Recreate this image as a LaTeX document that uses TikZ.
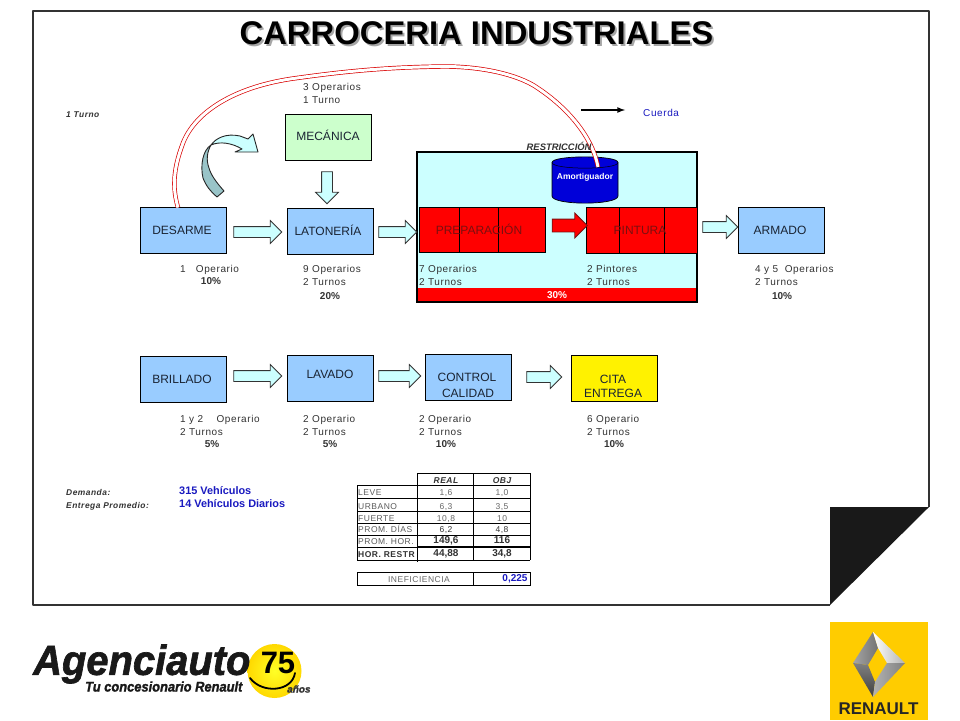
\documentclass[tikz,border=0pt]{standalone}
\usepackage{fontspec}
\setmainfont{Liberation Sans}
\newfontfamily\ltr[LetterSpace=6]{Liberation Sans}
\newfontfamily\logofont{Liberation Sans}[BoldItalicFeatures={FakeBold=1.6}]
\usetikzlibrary{shapes.arrows}
\definecolor{boxblue}{HTML}{99CCFF}
\definecolor{boxgreen}{HTML}{CCFFCC}
\definecolor{pale}{HTML}{CCFFFF}
\definecolor{ink}{HTML}{1A2433}
\definecolor{gris}{HTML}{333333}
\definecolor{darkred}{HTML}{7A1010}
\definecolor{teal2}{HTML}{99C4C8}
\definecolor{rnyellow}{HTML}{FFCC00}
\definecolor{azul}{HTML}{1A1AC0}
\tikzset{
  x=1pt,y=-1pt,
  fixh/.style={text height=7pt,text depth=0pt},
  procbox/.style={draw=black,line width=.7pt,fill=boxblue,inner sep=0,minimum width=86pt,minimum height=46pt},
  boxtext/.style={inner sep=0,fixh,font=\fontsize{12}{12}\selectfont,text=ink},
  redtext/.style={inner sep=0,fixh,font=\fontsize{12}{12}\selectfont,text=darkred},
  lbl/.style={anchor=west,inner sep=0,fixh,font=\ltr\fontsize{10}{10}\selectfont,text=gris},
  pct/.style={inner sep=0,fixh,font=\bfseries\fontsize{10}{10}\selectfont,text=gris},
  note/.style={anchor=west,inner sep=0,fixh,font=\ltr\itshape\bfseries\fontsize{8.4}{8.4}\selectfont,text=gris},
  bluenote/.style={anchor=west,inner sep=0,fixh,font=\bfseries\fontsize{10.9}{10.9}\selectfont,text=azul},
  blockarrow/.style={single arrow,draw=gris,line width=.8pt,fill=pale,inner sep=5pt,single arrow head extend=6pt,minimum height=#1},
  redblock/.style={draw=black,line width=.7pt,fill=red},
  cell/.style={inner sep=0,fixh,font=\ltr\fontsize{8.5}{8.5}\selectfont,text=gris!75},
  cellhead/.style={inner sep=0,fixh,font=\ltr\itshape\bfseries\fontsize{8.5}{8.5}\selectfont,text=gris},
  celldark/.style={inner sep=0,fixh,font=\bfseries\fontsize{10}{10}\selectfont,text=gris},
  rowname/.style={anchor=west,inner sep=0,fixh,font=\ltr\fontsize{8.5}{8.5}\selectfont,text=gris!80},
  tline/.style={draw=black,line width=.7pt},
  tthick/.style={draw=black,line width=1.2pt},
  logoit/.style={inner sep=0,font=\logofont\itshape\bfseries,text=black!90},
}
\begin{document}
\begin{tikzpicture}
\useasboundingbox (0,0) rectangle (960,720);
\fill[white] (0,0) rectangle (960,720);

% folded sheet
\draw[gris,line width=2.4pt,line join=round] (830,605) -- (33,605) -- (33,11) -- (929,11) -- (929,507);
\fill[black!90] (830,507) -- (929,507) -- (830,605) -- cycle;

% title
\node[inner sep=0,font=\bfseries\fontsize{32.8}{32.8}\selectfont,text=black!35] at (478.5,35.5) {CARROCERIA INDUSTRIALES};
\node[inner sep=0,font=\bfseries\fontsize{32.8}{32.8}\selectfont,text=black] (title) at (476.5,33.5) {CARROCERIA INDUSTRIALES};

% restriction block
\draw[black,line width=2pt,fill=pale] (417,152) rectangle (697,302);
\fill[red] (418,288) rectangle (696,301);
\node[pct,text=white] (p30) at (557,295) {30\%};
\node[redblock,inner sep=0,minimum width=126pt,minimum height=45pt] (prep) at (482,229.5) {};
\draw[black,line width=.7pt] (459,207) -- (459,252) (498,207) -- (498,252);
\node[redblock,inner sep=0,minimum width=111pt,minimum height=46pt] (pint) at (641.5,230) {};
\draw[black,line width=.7pt] (619.5,207) -- (619.5,253) (664,207) -- (664,253);
\node[redtext] at (479,231) {PREPARACIÓN};
\node[redtext] at (640,231) {PINTURA};
\node[single arrow,draw=darkred,line width=.8pt,fill=red,inner sep=6pt,single arrow head extend=6pt,minimum height=35pt] (redarr) at (566.5,225.5) {};
\filldraw[fill=blue!85!black,draw=black,line width=.7pt] (552,162.5) -- (552,196) .. controls (552,205.5) and (618,205.5) .. (618,196) -- (618,162.5) .. controls (618,155) and (552,155) .. (552,162.5) -- cycle;
\draw[black,line width=.5pt] (552,162.5) .. controls (552,170) and (618,170) .. (618,162.5);
\node[inner sep=0,text=white,font=\bfseries\fontsize{8.5}{8.5}\selectfont] (amort) at (585,177.5) {Amortiguador};

% process boxes
\node[procbox] (desarme) at (183.5,230) {};
\node[procbox] (latoneria) at (330,231) {};
\node[procbox,fill=boxgreen] (mecanica) at (328.5,137) {};
\node[procbox] (armado) at (781.5,230) {};
\node[procbox] (brillado) at (183,379) {};
\node[procbox] (lavado) at (330,378) {};
\node[procbox] (control) at (468.5,377) {};
\node[procbox,fill=yellow] (cita) at (614,378) {};
\node[boxtext] at (182,231) {DESARME};
\node[boxtext] at (328,232) {LATONERÍA};
\node[boxtext] at (328,137) {MECÁNICA};
\node[boxtext] at (780,231) {ARMADO};
\node[boxtext] at (182,380) {BRILLADO};
\node[boxtext] at (330,375) {LAVADO};
\node[boxtext] at (467,378) {CONTROL};
\node[boxtext] at (468,394) {CALIDAD};
\node[boxtext] at (613,380) {CITA};
\node[boxtext] at (613,394) {ENTREGA};

% block arrows
\node[blockarrow=48pt] (a1) at (255,232) {};
\node[blockarrow=38pt] (a2) at (395,232) {};
\node[blockarrow=35pt] (a3) at (717.5,227) {};
\node[blockarrow=48pt] (a4) at (255,376) {};
\node[blockarrow=42pt] (a5) at (397,376) {};
\node[blockarrow=35pt] (a6) at (541.5,377) {};
\node[blockarrow=32pt,shape border rotate=270] (a7) at (327,185) {};

% curved block arrow
\fill[teal2,draw=black!85,line width=.9pt,line join=round] (211,145) .. controls (203,150) and (200,165) .. (203,178) .. controls (206,186) and (211,192) .. (217,197) -- (224,191) .. controls (216,182) and (211,175) .. (209,168) .. controls (206,160) and (207,152) .. (211,145) -- cycle;
\fill[pale,draw=black!85,line width=.9pt,line join=round] (211,145) .. controls (216,138) and (226,133) .. (240,136) -- (248,139) -- (253,134) -- (258,152) -- (235,152) -- (242,149) .. controls (232,143) and (220,141) .. (211,145) -- cycle;

% red double route
\coordinate (routeA) at (178,207.5);
\coordinate (routeB) at (598,167);
\draw[red!85!black,line width=.7pt,double=white,double distance=3pt]
  (routeA) .. controls (173,190) and (172,172) .. (183,143)
  .. controls (195,112) and (235,86) .. (297,78)
  .. controls (340,72) and (385,67) .. (445,66.5)
  .. controls (475,66.5) and (510,72) .. (533,85)
  .. controls (565,105) and (592,135) .. (routeB);
\node[note,font=\itshape\bfseries\fontsize{9.4}{9.4}\selectfont] (restr) at (526.5,147) {RESTRICCIÓN};

% cuerda
\coordinate (cuerdaA) at (581,110);
\coordinate (cuerdaB) at (625,110);
\draw[black,line width=1.6pt,-latex] (cuerdaA) -- (cuerdaB);
\node[lbl,text=azul] (cuerda) at (643,113) {Cuerda};
\node[note] (turno) at (66,114) {1 Turno};

% labels
\node[lbl] at (303,87) {3 Operarios};
\node[lbl] at (303,100) {1 Turno};
\node[lbl] at (180,269) {1\ \ \ Operario};
\node[pct] at (211,281) {10\%};
\node[lbl] at (303,269) {9 Operarios};
\node[lbl] at (303,282) {2 Turnos};
\node[pct] at (330,296) {20\%};
\node[lbl] at (419,269) {7 Operarios};
\node[lbl] at (419,282) {2 Turnos};
\node[lbl] at (587,269) {2 Pintores};
\node[lbl] at (587,282) {2 Turnos};
\node[lbl] at (755,269) {4 y 5\ \ Operarios};
\node[lbl] at (755,282) {2 Turnos};
\node[pct] at (782,296) {10\%};
\node[lbl] at (180,419) {1 y 2\ \ \ \ Operario};
\node[lbl] at (180,432) {2 Turnos};
\node[pct] at (212,444) {5\%};
\node[lbl] at (303,419) {2 Operario};
\node[lbl] at (303,432) {2 Turnos};
\node[pct] at (330,444) {5\%};
\node[lbl] at (419,419) {2 Operario};
\node[lbl] at (419,432) {2 Turnos};
\node[pct] at (446,444) {10\%};
\node[lbl] at (587,419) {6 Operario};
\node[lbl] at (587,432) {2 Turnos};
\node[pct] at (614,444) {10\%};
\node[note] at (66,492) {Demanda:};
\node[note] at (66,505) {Entrega Promedio:};
\node[bluenote] at (179,491) {315 Vehículos};
\node[bluenote] at (179,504) {14 Vehículos Diarios};

% table
\draw[tline] (417.5,473) -- (530,473);
\draw[tline] (357,485) -- (530,485);
\draw[tthick] (473,498.5) -- (530,498.5);
\draw[tline] (357,498.5) -- (473,498.5);
\draw[tline] (357,511.5) -- (530,511.5);
\draw[tline] (357,523) -- (530,523);
\draw[tline] (357,535) -- (530,535);
\draw[tthick] (417,547) -- (530,547);
\draw[tline] (357,547) -- (417,547);
\draw[tline] (357,560) -- (530,560);
\draw[tline] (357,485) -- (357,560);
\draw[tline] (417.5,473) -- (417.5,562);
\draw[tline] (473,473) -- (473,560);
\draw[tline] (530,473) -- (530,560);
\draw[tline] (357,572) rectangle (530,585);
\draw[tline] (473,572) -- (473,585);
\node[cellhead] at (446,480) {REAL};
\node[cellhead] at (502,480) {OBJ};
\node[rowname] at (358,492) {LEVE};
\node[cell] at (446,492) {1,6};
\node[cell] at (502,492) {1,0};
\node[rowname] at (358,505.5) {URBANO};
\node[cell] at (446,505.5) {6,3};
\node[cell] at (502,505.5) {3,5};
\node[rowname] at (358,517.5) {FUERTE};
\node[cell] at (446,517.5) {10,8};
\node[cell] at (502,517.5) {10};
\node[rowname] at (358,529) {PROM. DÍAS};
\node[cell,text=gris] at (446,529) {6,2};
\node[cell,text=gris] at (502,529) {4,8};
\node[rowname] at (358,541) {PROM. HOR.};
\node[celldark] at (446,540) {149,6};
\node[celldark] at (502,540) {116};
\node[rowname,text=gris,font=\ltr\bfseries\fontsize{8.5}{8.5}\selectfont] at (358,554) {HOR. RESTR};
\node[celldark] at (446,553) {44,88};
\node[celldark] at (502,553) {34,8};
\node[cell] at (419,579) {INEFICIENCIA};
\node[bluenote,anchor=center,font=\bfseries\fontsize{10}{10}\selectfont] at (515,578) {0,225};

% agenciauto logo
\shade[inner color=yellow!85!white,outer color=yellow!70!orange] (274.5,671) circle (27);
\node[logoit,font=\logofont\itshape\bfseries\fontsize{42}{42}\selectfont,anchor=west,xscale=.95] (agencia) at (33,664) {Agenciauto};
\node[logoit,font=\logofont\itshape\bfseries\fontsize{14}{14}\selectfont,anchor=west,xscale=.92] (tu) at (85,686.5) {Tu concesionario Renault};
\node[logoit,font=\logofont\itshape\bfseries\fontsize{10}{10}\selectfont,anchor=west,text=gris] (anos) at (287,689) {años};
\node[inner sep=0,font=\bfseries\fontsize{31}{31}\selectfont,text=black] (s75) at (278,663) {75};
\draw[black,line width=1.8pt,line cap=round] (295,673) .. controls (292,692) and (262,694) .. (250,678);

% renault logo
\fill[rnyellow] (830,622) rectangle (928,720);
\shade[left color=black!35,right color=black!55] (873,632) -- (853,663) -- (868,665) -- (878,648) -- cycle;
\shade[left color=white,right color=black!30] (873,632) -- (905,663) -- (887,663) -- (878,648) -- cycle;
\shade[top color=black!50,bottom color=black!75] (853,663) -- (873,697) -- (875,682) -- (868,665) -- cycle;
\shade[left color=black!30,right color=black!50] (905,663) -- (873,697) -- (875,682) -- (887,663) -- cycle;
\node[inner sep=0,font=\bfseries\fontsize{17}{17}\selectfont,text=black!85] (renault) at (878.5,709) {RENAULT};
\end{tikzpicture}
\end{document}
